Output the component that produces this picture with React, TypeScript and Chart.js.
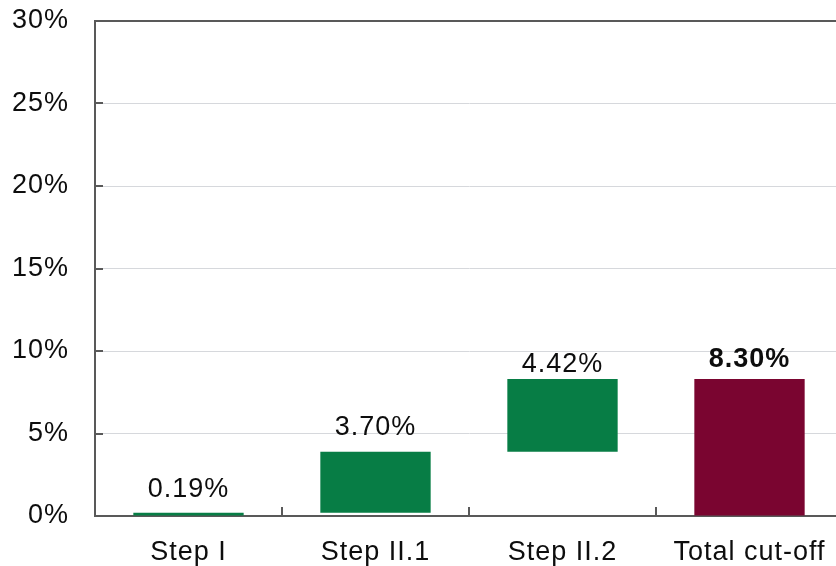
import React, { useEffect, useRef } from "react";
import { Chart, registerables } from "chart.js";

Chart.register(...registerables);

// Waterfall of the cut-off steps (in %)
const categories = ["Step I", "Step II.1", "Step II.2", "Total cut-off"];
const stepValues = [0.19, 3.7, 4.42];
const totalValue = 8.3;
const valueLabels = ["0.19%", "3.70%", "4.42%", "8.30%"];
const yTicks = [0, 5, 10, 15, 20, 25, 30];

// Styling
const STEP_COLOR = "#077D45";
const TOTAL_COLOR = "#7A0530";
const AXIS_COLOR = "#595959";
const GRID_COLOR = "#D6D8DC";
const TEXT_COLOR = "#0D0D0D";
const FONT = "'Liberation Sans', Arial, sans-serif";
const LETTER_SPACING = "1px";
const LABEL_GAPS = [16, 17, 7, 12];

// Floating bars: each step starts where the previous one ended
const buildRanges = (): [number, number][] => {
  const ranges: [number, number][] = [];
  let base = 0;
  for (const v of stepValues) {
    ranges.push([base, +(base + v).toFixed(2)]);
    base += v;
  }
  ranges.push([0, totalValue]);
  return ranges;
};

const framePlugin = {
  id: "frame",
  beforeDraw(chart: any) {
    (chart.ctx as any).letterSpacing = LETTER_SPACING;
  },
  afterDatasetsDraw(chart: any) {
    const { ctx, chartArea, scales } = chart;
    const x = scales.x;
    const y = scales.y;
    ctx.save();
    ctx.strokeStyle = AXIS_COLOR;
    ctx.lineWidth = 2;
    // top border
    ctx.beginPath();
    ctx.moveTo(chartArea.left - 1, chartArea.top);
    ctx.lineTo(chartArea.right, chartArea.top);
    ctx.stroke();
    // inward tick marks on the value axis
    ctx.beginPath();
    for (const t of yTicks) {
      const py = Math.round(y.getPixelForValue(t));
      ctx.moveTo(chartArea.left, py);
      ctx.lineTo(chartArea.left + 8, py);
    }
    // inward tick marks at category boundaries
    for (let i = 1; i < categories.length; i++) {
      const px = Math.round((x.getPixelForValue(i - 1) + x.getPixelForValue(i)) / 2);
      ctx.moveTo(px, chartArea.bottom);
      ctx.lineTo(px, chartArea.bottom - 9);
    }
    ctx.stroke();

    // value labels above each bar
    const meta = chart.getDatasetMeta(0);
    ctx.fillStyle = TEXT_COLOR;
    ctx.textAlign = "center";
    ctx.textBaseline = "alphabetic";
    (ctx as any).letterSpacing = LETTER_SPACING;
    meta.data.forEach((bar: any, i: number) => {
      const top = Math.min(bar.y, bar.base);
      const bold = i === categories.length - 1;
      ctx.font = `${bold ? "bold " : ""}27px ${FONT}`;
      ctx.fillText(valueLabels[i], bar.x, top - LABEL_GAPS[i]);
    });
    ctx.restore();
  },
};

export default function App() {
  const canvasRef = useRef<HTMLCanvasElement | null>(null);

  useEffect(() => {
    if (!canvasRef.current) return;
    const chart = new Chart(canvasRef.current, {
      type: "bar",
      data: {
        labels: categories,
        datasets: [
          {
            data: buildRanges() as any,
            backgroundColor: categories.map((_, i) =>
              i === categories.length - 1 ? TOTAL_COLOR : STEP_COLOR
            ),
            borderWidth: 0,
            categoryPercentage: 1,
            barPercentage: 0.59,
            borderSkipped: false,
          },
        ],
      },
      options: {
        animation: false,
        responsive: false,
        devicePixelRatio: 1,
        layout: { padding: { top: 21, right: 7, left: 0, bottom: 0 } },
        plugins: {
          legend: { display: false },
          tooltip: { enabled: false },
        },
        scales: {
          x: {
            grid: { display: false },
            border: { color: AXIS_COLOR, width: 2 },
            ticks: {
              color: TEXT_COLOR,
              font: { family: FONT, size: 27 },
              padding: 12,
              maxRotation: 0,
            },
            afterFit: (s: any) => {
              s.height = 50;
            },
          },
          y: {
            min: 0,
            max: 30,
            afterBuildTicks: (s: any) => {
              s.ticks = yTicks.map((v) => ({ value: v }));
            },
            grid: { color: GRID_COLOR, lineWidth: 1, drawTicks: false },
            border: { color: AXIS_COLOR, width: 2 },
            ticks: {
              color: TEXT_COLOR,
              font: { family: FONT, size: 27 },
              padding: 26,
              callback: (v: any) => `${v}%`,
            },
            afterFit: (s: any) => {
              s.width = 95;
              s.paddingTop = 0;
              s.paddingBottom = 0;
            },
          },
        },
      },
      plugins: [framePlugin],
    });
    return () => chart.destroy();
  }, []);

  return (
    <div
      style={{
        position: "fixed",
        left: 0,
        top: 0,
        width: 836,
        height: 566,
        overflow: "hidden",
        background: "#ffffff",
      }}
    >
      <canvas ref={canvasRef} width={850} height={566} style={{ display: "block" }} />
    </div>
  );
}
